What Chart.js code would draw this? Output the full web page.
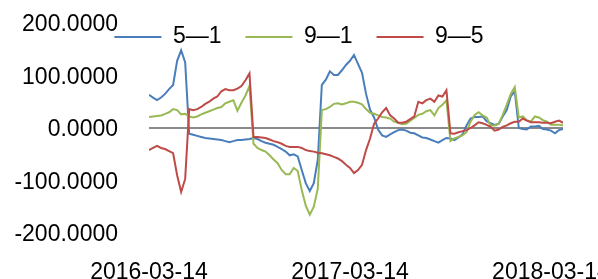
<!DOCTYPE html>
<html>
<head>
<meta charset="utf-8">
<script src="https://cdn.jsdelivr.net/npm/chart.js@4.4.0/dist/chart.umd.min.js"></script>
<style>
  html, body { margin: 0; padding: 0; background: #fff; }
</style>
</head>
<body>
<canvas id="grafik" width="598" height="279"></canvas>
<script>
// === DATA ===
const tickLabels = ["2016-03-14", "2017-03-14", "2018-03-14"];
const seriesNames = ["5—1", "9—1", "9—5"];

// 5—1 (blue)
const spread51 = [
  63, 58, 53, 58, 65, 74, 82, 128, 148, 125,
  -11, -13, -15, -17, -19, -20, -21, -22, -23, -25,
  -27, -25, -23, -23, -22, -21, -19, -21, -25, -28,
  -30, -32, -36, -40, -45, -52, -50, -54, -80, -105,
  -120, -105, -60, 82, 92, 108, 101, 101, 110, 120,
  128, 139, 122, 105, 65, 35, 20, -3, -14, -17,
  -12, -8, -4, -3, -5, -9, -10, -14, -18, -19,
  -22, -25, -28, -23, -19, -20, -23, -18, -12, 5,
  18, 21, 21, 22, 13, 9, 6, 8, 22, 34,
  60, 70, 0, -2, -3, 3, 3, 4, -2, -3,
  -5, -10, -4, -2
];

// 9—1 (green)
const spread91 = [
  21, 22, 23, 24, 27, 30, 36, 34, 26, 27,
  22, 20, 22, 26, 29, 32, 35, 38, 40, 47,
  50, 53, 33, 48, 62, 80, -30, -38, -42, -45,
  -52, -60, -67, -80, -88, -88, -76, -82, -118, -148,
  -165, -150, -115, 34, 36, 40, 46, 47, 45, 47,
  50, 50, 48, 45, 36, 29, 27, 24, 21, 20,
  18, 12, 10, 7, 8, 14, 19, 25, 27, 32,
  34, 24, 38, 44, 53, -25, -20, -17, -14, -8,
  12, 25, 30, 24, 20, 5, 5, 8, 25, 44,
  65, 78, 20, 22, 15, 12, 22, 20, 15, 12,
  6, 6, 6, 5
];

// 9—5 (red)
const spread95 = [
  -42, -38, -34, -38, -40, -44, -48, -90, -122, -97,
  36, 34, 36, 40, 46, 50, 56, 60, 70, 74,
  72, 72, 75, 80, 91, 104, -17, -17, -18, -19,
  -22, -25, -27, -30, -34, -36, -36, -36, -38, -42,
  -44, -45, -47, -48, -50, -52, -55, -58, -63, -70,
  -76, -86, -80, -70, -42, -20, 8, 18, 30, 38,
  24, 18, 10, 10, 12, 17, 22, 50, 47, 53,
  56, 50, 62, 60, 72, -10, -11, -8, -6, -4,
  0, 5, 11, 9, 6, 2, -5, -3, 2, 5,
  9, 12, 12, 18, 14, 11, 11, 11, 10, 10,
  9, 12, 14, 10
];

const days = spread51.map((_, i) => i);

Chart.defaults.font.family = "'Liberation Sans', Arial, sans-serif";
Chart.defaults.font.size = 23;
Chart.defaults.color = "#000";

function garis(label, data, warna, urutan) {
  return {
    label: label,
    data: data,
    borderColor: warna,
    backgroundColor: warna,
    borderWidth: 2,
    pointRadius: 0,
    tension: 0,
    order: urutan
  };
}

// legend ditumpuk di atas area grafik (seperti Excel)
const legendMengambang = {
  id: "legendMengambang",
  beforeLayout(chart) {
    const lg = chart.legend;
    if (lg && !lg._dipatch) {
      const fitAsli = lg.fit;
      lg.fit = function () {
        fitAsli.call(this);
        this.height = 22;
      };
      lg._dipatch = true;
    }
  },
  afterLayout(chart) {
    const lg = chart.legend;
    if (lg) {
      lg.top = 1.5;
      lg.height = 60;
      lg.bottom = lg.top + lg.height;
    }
  }
};

// === GRAFIK ===
new Chart(document.getElementById("grafik"), {
  type: "line",
  data: {
    labels: days,
    datasets: [
      garis(seriesNames[0], spread51, "#4a7ebb", 3),
      garis(seriesNames[1], spread91, "#98b954", 2),
      garis(seriesNames[2], spread95, "#be4b48", 1)
    ]
  },
  plugins: [legendMengambang],
  options: {
    responsive: false,
    animation: false,
    layout: { padding: { top: 1 } },
    plugins: {
      tooltip: { enabled: false },
      legend: {
        position: "top",
        labels: {
          boxWidth: 47,
          boxHeight: 0,
          padding: 24,
          sort: (a, b) => a.datasetIndex - b.datasetIndex
        }
      }
    },
    scales: {
      x: {
        type: "linear",
        min: 0,
        max: days.length - 1,
        grid: { display: false },
        border: { display: false },
        ticks: {
          stepSize: 50,
          includeBounds: false,
          autoSkip: false,
          maxRotation: 0,
          minRotation: 0,
          padding: 18,
          callback: (v) => tickLabels[v / 50] ?? ""
        },
        afterFit: (s) => {
          s.height = 46;
          s.paddingLeft = 0;
          s.paddingRight = 35;
        }
      },
      y: {
        min: -200,
        max: 200,
        border: { display: false },
        grid: {
          drawTicks: false,
          lineWidth: 2,
          color: (ctx) => (ctx.tick && ctx.tick.value === 0 ? "#8a8a8a" : "rgba(0,0,0,0)")
        },
        ticks: {
          stepSize: 100,
          padding: 31,
          labelOffset: 2,
          callback: (v) => v.toFixed(4)
        },
        afterFit: (s) => {
          s.width = 149;
          s.paddingTop = 0;
          s.paddingBottom = 0;
        }
      }
    }
  }
});
</script>
</body>
</html>
